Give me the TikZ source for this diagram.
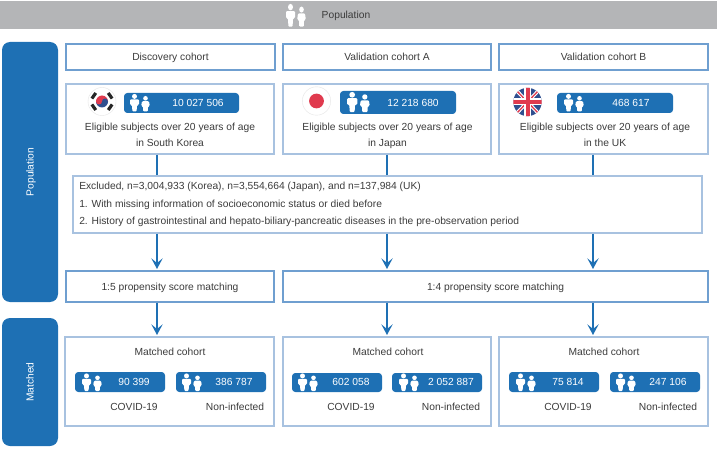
\documentclass[tikz,border=0pt]{standalone}
\usepackage{fontspec}
\setmainfont{Liberation Sans}
\usetikzlibrary{arrows.meta}
\definecolor{bluefill}{HTML}{1E70B4}
\definecolor{boxline}{HTML}{A8C2E0}
\definecolor{boxstrong}{HTML}{6F9FD0}
\definecolor{bandgray}{HTML}{B4B5B7}
\definecolor{txt}{HTML}{3C3C3C}
\definecolor{ukblue}{HTML}{2F4F8F}
\definecolor{flagred}{HTML}{E03A4E}
\tikzset{
  x=0.75pt,y=-0.75pt,
  every node/.style={font=\fontsize{7.7pt}{9pt}\selectfont,text=txt,inner sep=0pt,text height=5.6pt,text depth=0pt},
  cbox/.style={draw=boxline,line width=1pt,fill=white},
  headbox/.style={draw=boxstrong,line width=1pt,fill=white},
  sidebox/.style={fill=bluefill,rounded corners=6pt},
  sidetext/.style={text=white,rotate=90},
  pill/.style={fill=bluefill,rounded corners=2.5pt},
  band/.style={fill=bandgray},
  num/.style={text=white},
  link/.style={draw=bluefill,line width=1.6pt},
  arrowlink/.style={link,shorten >=1pt,-{Stealth[length=8pt,width=8.5pt,inset=3.5pt]}},
  pics/people/.style={code={
    \fill[white] (4.5,2.4) circle (2.5);
    \fill[white,rounded corners=.8pt] (0,5.4) -- (9,5.4) -- (9,11) -- (7,11) -- (6.6,17.5) -- (2.4,17.5) -- (2,11) -- (0,11) -- cycle;
    \fill[white] (15.5,4.3) circle (2.3);
    \fill[white,rounded corners=.8pt] (12,7.2) -- (19,7.2) -- (19.8,12) -- (18,12.4) -- (17.8,17.5) -- (13.2,17.5) -- (13,12.4) -- (11.2,12) -- cycle;
  }},
}
\newcommand{\bx}[7][]{%
  \pgfmathsetmacro\bxw{(#5-#3)*0.75}\pgfmathsetmacro\bxh{(#6-#4)*0.75}%
  \pgfmathsetmacro\bxcx{(#3+#5)/2}\pgfmathsetmacro\bxcy{(#4+#6)/2}%
  \node[#2,minimum width=\bxw pt,minimum height=\bxh pt,#1] (#7) at (\bxcx,\bxcy)}
\begin{document}
\begin{tikzpicture}
\useasboundingbox (0,0) rectangle (717,449);
% top band
\bx{band}{0}{1}{717}{29}{topband} {};
\pic[yscale=1.3] at (286,4) {people};
\node (toplabel) at (346,15) {Population};
% side boxes
\bx{sidebox}{2}{42}{58}{302}{sidepop} {};
\bx{sidebox}{2}{318}{58}{446}{sidematch} {};
\node[sidetext] (sidepoptext) at (30,172) {Population};
\node[sidetext] (sidematchtext) at (30,382) {Matched};
% headers
\bx{headbox}{66}{44}{275}{70}{h1} {Discovery cohort};
\bx{headbox}{283}{44}{491}{70}{h2} {Validation cohort A};
\bx{headbox}{499}{44}{708}{70}{h3} {Validation cohort B};
% eligible
\bx{cbox}{66}{84}{274}{154}{e1} {};
\bx{cbox}{283}{84}{491}{154}{e2} {};
\bx{cbox}{499}{84}{708}{154}{e3} {};
\node (t1) at (170,127) {Eligible subjects over 20 years of age};
\node (u1) at (170,143) {in South Korea};
\node (t2) at (387.5,127) {Eligible subjects over 20 years of age};
\node (u2) at (387.5,143) {in Japan};
\node (t3) at (605,127) {Eligible subjects over 20 years of age};
\node (u3) at (605,143) {in the UK};
\bx{pill}{124}{93}{239}{113}{p1} {};
\bx{pill}{340}{91}{456}{114}{p2} {};
\bx{pill}{557}{93}{673}{113}{p3} {};
\pic at (130,94) {people};
\pic[scale=1.15] at (347,92) {people};
\pic at (564,94) {people};
\node[num] (n1) at (198,103) {10 027 506};
\node[num] (n2) at (413,103) {12 218 680};
\node[num] (n3) at (631,103) {468 617};
% flags
\fill[white,draw=black!10,line width=.3pt] (102,101.5) circle (14);
\begin{scope}
 \clip (102,101.5) circle (6);
 \fill[flagred] (94,93) rectangle (110,101.5);
 \fill[ukblue] (94,101.5) rectangle (110,110);
 \fill[flagred] (99,101.5) circle (3);
 \fill[ukblue] (105,101.5) circle (3);
\end{scope}
\foreach \a in {35,145,215,325}{
  \draw[black!85,line width=2.4pt] (102,101.5) ++(\a:10) ++(\a+90:3.4) -- ++(\a-90:6.8);
}
\fill[white,draw=black!10,line width=.3pt] (316.5,101) circle (14.2);
\fill[flagred] (316.5,101) circle (7.4);
\begin{scope}
 \clip (527.5,102) circle (14.2);
 \fill[ukblue] (512,87) rectangle (543,117);
 \draw[white,line width=2.6pt] (514,88) -- (541,116) (541,88) -- (514,116);
 \draw[flagred,line width=1pt] (514,88) -- (541,116) (541,88) -- (514,116);
 \fill[white] (524,87) rectangle (531,117);
 \fill[white] (512,98.5) rectangle (543,105.5);
 \fill[flagred] (525.5,87) rectangle (529.5,117);
 \fill[flagred] (512,100) rectangle (543,104);
\end{scope}
% exclusion
\bx{cbox}{73}{176}{702}{233}{ex} {};
\node[anchor=west] (x1) at (79,186) {Excluded, n=3,004,933 (Korea), n=3,554,664 (Japan), and n=137,984 (UK)};
\node[anchor=west] (x2) at (79,204) {1. With missing information of socioeconomic status or died before};
\node[anchor=west] (x3) at (79,221) {2. History of gastrointestinal and hepato-biliary-pancreatic diseases in the pre-observation period};
% matching
\bx{headbox}{66}{271}{274}{302}{m1} {1:5 propensity score matching};
\bx{headbox}{283}{271}{708}{302}{m2} {1:4 propensity score matching};
% matched cohort
\bx{cbox}{65}{337}{274}{426}{c1} {};
\bx{cbox}{283}{337}{491}{426}{c2} {};
\bx{cbox}{499}{337}{708}{426}{c3} {};
\node (mc1) at (170,352) {Matched cohort};
\node (mc2) at (388,352) {Matched cohort};
\node (mc3) at (604,352) {Matched cohort};
% pills matched
\bx{pill}{75}{372}{165}{392}{a1} {};
\bx{pill}{176}{372}{266}{392}{b1} {};
\bx{pill}{292}{373}{382}{392}{a2} {};
\bx{pill}{392}{373}{482}{392}{b2} {};
\bx{pill}{509}{372}{599}{392}{a3} {};
\bx{pill}{610}{372}{700}{392}{b3} {};
\foreach \x in {82,182,298,399,516,616}{\pic at (\x,373.5) {people};}
\node[num] (na1) at (134,382) {90 399};
\node[num] (nb1) at (234,382) {386 787};
\node[num] (na2) at (351,382) {602 058};
\node[num] (nb2) at (451,382) {2 052 887};
\node[num] (na3) at (568,382) {75 814};
\node[num] (nb3) at (668,382) {247 106};
\node (ca1) at (134,407) {COVID-19};
\node (cb1) at (235,407) {Non-infected};
\node (ca2) at (351,407) {COVID-19};
\node (cb2) at (451,407) {Non-infected};
\node (ca3) at (568,407) {COVID-19};
\node (cb3) at (668,407) {Non-infected};
% connectors
\coordinate (l1) at (157,200);
\coordinate (l2) at (387,200);
\coordinate (l3) at (593,200);
\draw[link] (l1 |- e1.south) -- (l1 |- ex.north);
\draw[link] (l2 |- e2.south) -- (l2 |- ex.north);
\draw[link] (l3 |- e3.south) -- (l3 |- ex.north);
\draw[arrowlink] (l1 |- ex.south) -- (l1 |- m1.north);
\draw[arrowlink] (l2 |- ex.south) -- (l2 |- m2.north);
\draw[arrowlink] (l3 |- ex.south) -- (l3 |- m2.north);
\draw[arrowlink] (l1 |- m1.south) -- (l1 |- c1.north);
\draw[arrowlink] (l2 |- m2.south) -- (l2 |- c2.north);
\draw[arrowlink] (l3 |- m2.south) -- (l3 |- c3.north);
\end{tikzpicture}
\end{document}
